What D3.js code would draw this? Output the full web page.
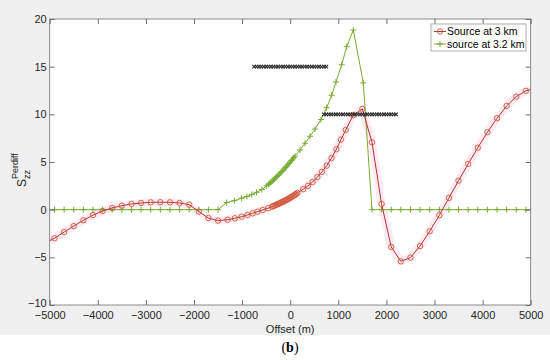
<!DOCTYPE html>
<html><head><meta charset="utf-8">
<script src="https://cdn.jsdelivr.net/npm/d3@7"></script>
<style>
html,body{margin:0;padding:0;background:#fff;}
svg{display:block;font-family:"Liberation Sans",Arial,sans-serif;}
</style></head>
<body><svg id="c" width="550" height="360"></svg>
<script>
// ---- data ----
const seriesNames = ["Source at 3 km", "source at 3.2 km"];
const redX = [-5000,-4900,-4700,-4500,-4300,-4100,-3900,-3700,-3500,-3300,-3100,-2900,-2700,-2500,-2300,-2100,-1900,-1700,-1500,-1300,-1150,-1010,-890,-780,-680,-570,-460,-375,
 -350,-325,-300,-275,-250,-225,-200,-175,-150,-125,-100,-75,-50,-25,0,25,50,75,100,125,150,
 270,370,465,565,660,760,860,960,1055,1155,1310,1500,1700,1900,2100,2300,2500,2700,2900,3100,3300,3500,3700,3900,4100,4300,4500,4700,4900,5000];
const redY = [-3.25,-3.0,-2.35,-1.72,-1.12,-0.57,-0.14,0.18,0.42,0.6,0.7,0.77,0.78,0.77,0.7,0.52,-0.2,-0.88,-1.15,-1.05,-0.9,-0.73,-0.56,-0.38,-0.21,-0.03,0.15,0.32,
 0.38,0.43,0.49,0.54,0.6,0.66,0.72,0.78,0.84,0.9,0.97,1.03,1.1,1.17,1.25,1.32,1.4,1.48,1.57,1.66,1.75,
 2.15,2.5,2.9,3.42,3.97,4.62,5.42,6.34,7.35,8.36,9.9,10.57,7.07,0.6,-3.91,-5.42,-5.03,-3.81,-2.27,-0.59,1.23,3.04,4.8,6.5,8.12,9.59,10.88,11.86,12.46,12.6];
const greenX = [-5000,-4900,-4700,-4500,-4300,-4100,-3900,-3700,-3500,-3300,-3100,-2900,-2700,-2500,-2300,-2100,-1900,-1700,-1500,-1320,-1160,-1010,-900,-800,-700,-590,-490,
 -450,-425,-400,-375,-350,-325,-300,-275,-250,-225,-200,-175,-150,-125,-100,-75,-50,-25,0,25,50,75,100,
 204,308,412,515,640,758,862,952,1070,1175,1312,1520,1700,1900,2100,2300,2500,2700,2900,3100,3300,3500,3700,3900,4100,4300,4500,4700,4900,5000];
const greenY = [0,0,0,0,0,0,0,0,0,0,0,0,0,0,0,0,0,0,0,0.75,0.95,1.2,1.38,1.6,1.82,2.12,2.5,
 2.66,2.77,2.88,2.99,3.11,3.23,3.35,3.47,3.6,3.73,3.86,3.99,4.13,4.27,4.41,4.55,4.7,4.85,5.0,5.15,5.3,5.46,5.62,
 6.26,6.97,7.7,8.45,9.45,10.7,12.0,13.4,15.2,17.1,18.85,13.3,0,0,0,0,0,0,0,0,0,0,0,0,0,0,0,0,0,0];
const bar1X = [-750,-700,-650,-600,-550,-500,-450,-400,-350,-300,-250,-200,-150,-100,-50,0,50,100,150,200,250,300,350,400,450,500,550,600,650,700,750];
const bar1Y = 15;
const bar2X = [700,750,800,850,900,950,1000,1050,1100,1150,1200,1250,1300,1350,1400,1450,1500,1550,1600,1650,1700,1750,1800,1850,1900,1950,2000,2050,2100,2150,2200];
const bar2Y = 10;
const xTicks = [-5000,-4000,-3000,-2000,-1000,0,1000,2000,3000,4000,5000];
const yTicks = [-10,-5,0,5,10,15,20];
const xLabel = "Offset (m)";
const panelLabel = "b";

// ---- layout ----
const svg = d3.select("#c");
const L = 49.7, R = 530.7, T = 19, B = 305;
const x = d3.scaleLinear().domain([-5000,5000]).range([L,R]);
const y = d3.scaleLinear().domain([-10,20]).range([B,T]);
const redLine = "#b0342a", redMark = "#d0583a", green = "#77ac30", axisCol = "#6e6e6e", txtCol = "#262626";

svg.append("rect").attr("x",0).attr("y",0).attr("width",550).attr("height",335).attr("fill","#f0f0f0");
svg.append("rect").attr("x",L).attr("y",T).attr("width",R-L).attr("height",B-T).attr("fill","#fff");

const clip = svg.append("defs").append("clipPath").attr("id","pc");
clip.append("rect").attr("x",L).attr("y",T).attr("width",R-L).attr("height",B-T);
const g = svg.append("g").attr("clip-path","url(#pc)");

const red = redX.map((v,i)=>({x:v,y:redY[i]}));
const grn = greenX.map((v,i)=>({x:v,y:greenY[i]}));
const line = d3.line().x(d=>x(d.x)).y(d=>y(d.y));

// pink halo (jpeg-like) under red
g.append("path").datum(red).attr("d",line).attr("fill","none").attr("stroke","#feeaf4").attr("stroke-width",8).attr("stroke-linejoin","round");

// green
g.append("path").datum(grn).attr("d",line).attr("fill","none").attr("stroke",green).attr("stroke-width",1);
g.selectAll(".gp").data(grn.filter(d=>Math.abs(d.x)<5000)).join("path").attr("class","gp")
 .attr("d",d=>{const cx=x(d.x),cy=y(d.y),s=3;return `M${cx-s},${cy}H${cx+s}M${cx},${cy-s}V${cy+s}`;})
 .attr("stroke",green).attr("stroke-width",1).attr("fill","none");

// red
g.append("path").datum(red).attr("d",line).attr("fill","none").attr("stroke",redLine).attr("stroke-width",1);
g.selectAll(".rp").data(red.filter(d=>Math.abs(d.x)<5000)).join("circle").attr("class","rp")
 .attr("cx",d=>x(d.x)).attr("cy",d=>y(d.y)).attr("r",2.7)
 .attr("fill","none").attr("stroke",redMark).attr("stroke-width",0.9);

// black x markers
function xs(arr,yv){
  g.selectAll(null).data(arr).join("path")
   .attr("d",d=>{const cx=x(d),cy=y(yv),s=1.8;return `M${cx-s},${cy-s}L${cx+s},${cy+s}M${cx-s},${cy+s}L${cx+s},${cy-s}`;})
   .attr("stroke","#2a2a2a").attr("stroke-width",1.1).attr("fill","none");
}
xs(bar1X,bar1Y); xs(bar2X,bar2Y);

// axes
const fmt = d3.format("d");
function styleAx(sel){sel.select(".domain").remove();sel.selectAll("line").attr("stroke",axisCol);sel.selectAll("text").attr("fill",txtCol).style("font-size","11px").style("font-family","'Liberation Sans',Arial,sans-serif");}
svg.append("g").attr("transform",`translate(0,${B})`).call(d3.axisBottom(x).tickValues(xTicks).tickFormat(fmt).tickSizeInner(-5).tickSizeOuter(0).tickPadding(6)).call(styleAx);
svg.append("g").attr("transform",`translate(0,${T})`).call(d3.axisTop(x).tickValues(xTicks).tickFormat("").tickSizeInner(-5).tickSizeOuter(0)).call(styleAx);
const yax = svg.append("g").attr("transform",`translate(${L},0)`).call(d3.axisLeft(y).tickValues(yTicks).tickFormat(fmt).tickSizeInner(-5).tickSizeOuter(0).tickPadding(3)).call(styleAx);
yax.selectAll(".tick text").filter(d=>d===-10).attr("dy","0.1em");
svg.append("g").attr("transform",`translate(${R},0)`).call(d3.axisRight(y).tickValues(yTicks).tickFormat("").tickSizeInner(-5).tickSizeOuter(0)).call(styleAx);
svg.append("rect").attr("x",L).attr("y",T).attr("width",R-L).attr("height",B-T).attr("fill","none").attr("stroke",axisCol).attr("stroke-width",0.8);

// axis labels
svg.append("text").attr("x",(L+R)/2).attr("y",333).attr("text-anchor","middle").attr("fill",txtCol).style("font-size","11px").text(xLabel);
const yl = svg.append("text").attr("transform","translate(26,187) rotate(-90)").attr("fill",txtCol).style("font-size","12px");
yl.append("tspan").attr("x",0).attr("y",0).text("S");
yl.append("tspan").attr("x",8).attr("y",4).style("font-size","9px").text("zz");
yl.append("tspan").attr("x",8).attr("y",-8).style("font-size","9px").text("Perdiff");

// panel label
const pl = svg.append("text").attr("x",290).attr("y",352).attr("text-anchor","middle").attr("fill","#000").style("font-family","'Liberation Serif','Times New Roman',serif").style("font-size","14px");
pl.append("tspan").text("(");
pl.append("tspan").style("font-weight","bold").text(panelLabel);
pl.append("tspan").text(")");

// legend
const lg = svg.append("g");
lg.append("rect").attr("x",431).attr("y",24).attr("width",95).attr("height",27).attr("fill","#fff").attr("stroke","#9a9a9a").attr("stroke-width",0.8);
const rows = [{c:redLine,m:"o"},{c:green,m:"+"}];
rows.forEach((r,i)=>{
  const yy = 31.5 + i*12.5;
  lg.append("line").attr("x1",434).attr("x2",446).attr("y1",yy).attr("y2",yy).attr("stroke",r.c).attr("stroke-width",1);
  if(r.m==="o") lg.append("circle").attr("cx",440).attr("cy",yy).attr("r",2.7).attr("fill","none").attr("stroke",redMark).attr("stroke-width",0.9);
  else lg.append("path").attr("d",`M437,${yy}H443M440,${yy-3}V${yy+3}`).attr("stroke",green).attr("stroke-width",1);
  lg.append("text").attr("x",447).attr("y",yy+3.8).attr("fill","#000").style("font-size","10.5px").text(seriesNames[i]);
});
</script></body></html>
